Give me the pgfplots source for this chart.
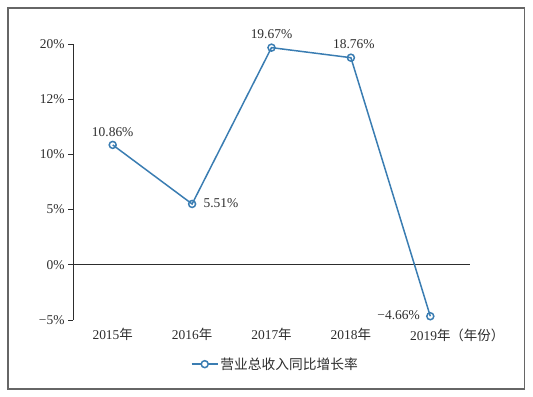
\documentclass[border=0pt]{standalone}
\usepackage{pgfplots}
\pgfplotsset{compat=1.18}
\usepackage{fontspec}
\setmainfont{Liberation Serif}
\newfontfamily\cjk{Noto Sans CJK SC}
\definecolor{lineblue}{RGB}{58,125,178}
\definecolor{txt}{RGB}{45,45,45}
\newcommand\fs{\fontsize{13.5}{15}\selectfont}
\begin{document}
\begin{tikzpicture}
\useasboundingbox (0,0) rectangle (533bp,397bp);
\draw[gray!80!black, line width=1.2bp] (8bp,8bp) rectangle (524.5bp,389bp);
\begin{axis}[
  at={(73bp,77bp)}, anchor=south west,
  scale only axis, width=397bp, height=276bp,
  xmin=-0.5, xmax=4.5, ymin=-5, ymax=20,
  axis y line=left, axis x line=none,
  y axis line style={-, line width=0.8bp, color=txt},
  ytick={-5,0,5,10,15,20},
  yticklabels={−5\%,0\%,5\%,10\%,12\%,20\%},
  ytick style={line width=0.8bp, color=txt},
  tick align=outside, major tick length=5bp,
  yticklabel style={font=\fs, text=txt},
  clip=false,
  legend style={at={(0.51,-0.16)}, anchor=center, draw=none, fill=none,
    font=\cjk\fontsize{13.8}{15}\selectfont, text=txt, legend columns=1},
  legend cell align=left,
  legend image code/.code={
    \draw[#1] (0bp,0bp) -- (26bp,0bp);
    \draw[lineblue, line width=1.5bp, fill=white] (13bp,0bp) circle (3.5bp);
  },
]
\addplot[forget plot, txt, line width=0.8bp] coordinates {(-0.5,0) (4.5,0)};
\addplot[lineblue, line width=1.5bp, mark=o, mark size=3.5bp,
  mark options={fill=white, line width=1.5bp}] coordinates {
  (0,10.86) (1,5.51) (2,19.67) (3,18.76) (4,-4.66)};
\addlegendentry{营业总收入同比增长率}
\foreach \i/\lab in {0/2015,1/2016,2/2017,3/2018}{
  \edef\tmp{\noexpand\node[anchor=north, text=txt, font=\noexpand\fs] at (axis cs:\i,-5) [yshift=-5bp] {\lab{\noexpand\cjk 年}};}
  \tmp
}
\node[anchor=north, text=txt, font=\fs] at (axis cs:4,-5) [yshift=-5bp] {2019{\cjk 年}\rlap{\cjk （年份）}};
\node[anchor=south, text=txt, font=\fs] at (axis cs:0,10.86) [yshift=5bp] {10.86\%};
\node[anchor=west, text=txt, font=\fs] at (axis cs:1,5.51) [xshift=8bp, yshift=1bp] {5.51\%};
\node[anchor=south, text=txt, font=\fs] at (axis cs:2,19.67) [yshift=5bp] {19.67\%};
\node[anchor=south, text=txt, font=\fs] at (axis cs:3,18.76) [xshift=3bp, yshift=5bp] {18.76\%};
\node[anchor=east, text=txt, font=\fs] at (axis cs:4,-4.66) [xshift=-7bp, yshift=1bp] {−4.66\%};
\end{axis}
\end{tikzpicture}
\end{document}
